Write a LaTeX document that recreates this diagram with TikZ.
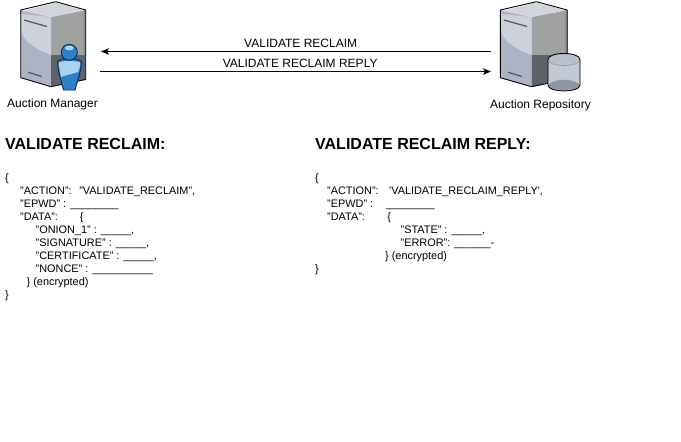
\documentclass[tikz,border=0pt]{standalone}
\usepackage{fontspec}
\setmainfont{Liberation Sans}
\usetikzlibrary{arrows.meta}
\usetikzlibrary{positioning}
\definecolor{srvtop}{HTML}{D2D5DE}
\definecolor{srvleft}{HTML}{ABB3C5}
\definecolor{srvlight}{HTML}{CDD1DC}
\definecolor{srvright}{HTML}{A0A1A1}
\definecolor{srvedge}{HTML}{8C8D8E}
\definecolor{srvdark}{HTML}{5E6369}
\definecolor{srvline}{HTML}{50565F}
\definecolor{usrblue}{HTML}{2E80C8}
\definecolor{usrdark}{HTML}{0C2C4C}
\definecolor{usrlight}{HTML}{A9D3EF}
\definecolor{dbbody}{HTML}{C3C8D5}
\definecolor{dbtop}{HTML}{B9BFCE}
\definecolor{dbshade}{HTML}{8F95A3}
\tikzset{
  sendline/.style={-{Stealth[length=8pt, width=6.5pt, inset=2pt]}, line width=0.7pt},
  msglabel/.style={above, inner sep=3.5pt, font=\fontsize{12}{14}\selectfont},
  hostlabel/.style={inner sep=0pt, font=\fontsize{12}{14}\selectfont},
  msgtitle/.style={anchor=base west, inner sep=0pt, font=\fontsize{16}{18}\selectfont\bfseries},
  jsonline/.style={anchor=base west, inner sep=0pt, font=\fontsize{10.9}{13}\selectfont},
  server/.pic={
    \fill[srvleft] (20.7,10) -- (51,17) -- (51,86.7) -- (20.7,77.7) -- cycle;
    \fill[srvright] (51,17) -- (85.7,10) -- (85.7,55) -- (51,55) -- cycle;
    \fill[srvdark] (51,55) -- (85.7,55) -- (85.7,79.5) -- (51,86.7) -- cycle;
    \fill[srvedge] (83.5,11) -- (85.7,10) -- (85.7,55) -- (83.5,55) -- cycle;
    \fill[srvlight] (21.5,14) -- (51,17) -- (51,55) .. controls (38,50) and (26,44) .. (21.5,32) -- cycle;
    \fill[srvtop] (23,11) -- (55.7,2.5) -- (84,10.5) -- (51,17) -- cycle;
    \draw[srvline, line width=1.2pt] (24,20) -- (46.7,26.5);
    \draw[srvline, line width=1.2pt] (28.3,72.3) -- (41.7,76.5);
    \draw[black, line width=0.9pt, line join=round] (20.7,10) -- (55.7,1.7) -- (85.7,10) -- (85.7,79.5) -- (51,86.7) -- (20.7,77.7) -- cycle;
  },
  person/.pic={
    \draw[usrdark, fill=usrblue, line width=0.9pt] (57.5,62) .. controls (60,59) and (64,58.5) .. (69,59.5) .. controls (75,58.5) and (79,59) .. (81.5,62) .. controls (81,72) and (77,82) .. (75,90) -- (63.5,90) .. controls (61,80) and (58,72) .. (57.5,62) -- cycle;
    \fill[usrlight] (58.7,62.5) .. controls (63,60.5) and (75,60.5) .. (80.3,62.5) .. controls (80,67) and (79,70) .. (78,72) .. controls (72,74) and (66,75) .. (61,77) .. controls (60,72) and (59,67) .. (58.7,62.5) -- cycle;
    \draw[usrdark, fill=usrblue, line width=0.9pt] (69.3,52.3) circle (8);
    \fill[usrlight] (69.3,48) ellipse (4.5 and 2.3);
  },
  database/.pic={
    \fill[dbbody] (548,59.5) -- (548,85) .. controls (548,92.8) and (580,92.8) .. (580,85) -- (580,59.5) -- cycle;
    \fill[dbshade] (548.5,85) .. controls (553,78) and (575,78) .. (579.5,85) .. controls (579.5,91.5) and (548.5,91.5) .. (548.5,85) -- cycle;
    \fill[dbtop] (564,59.5) ellipse (16 and 6);
    \draw[dbshade, line width=0.6pt] (548,59.5) .. controls (548,67.5) and (580,67.5) .. (580,59.5);
    \draw[black, line width=0.9pt] (548,85) .. controls (548,92.8) and (580,92.8) .. (580,85) -- (580,59.5) .. controls (580,51.5) and (548,51.5) .. (548,59.5) -- cycle;
  },
}
\begin{document}
\begin{tikzpicture}[x=1pt, y=-1pt]
  \useasboundingbox[fill=white] (0,0) rectangle (681,442);

  \pic at (0,0) {server};
  \pic at (0,0) {person};
  \pic[xscale=1.03] at (479,0) {server};
  \pic at (0,0) {database};

  \node[hostlabel] (manager) at (52.5,104) {Auction Manager};
  \node[hostlabel] (repository) at (540.5,105) {Auction Repository};

  \coordinate (mgrtop) at (101,51.5);
  \coordinate (mgrbot) at (100,71.5);
  \coordinate (repotop) at (491,51.5);
  \coordinate (repobot) at (491,71.5);
  \draw[sendline] (repotop) -- node[msglabel, pos=0.488] (reclaim) {VALIDATE RECLAIM} (mgrtop);
  \draw[sendline] (mgrbot) -- node[msglabel, pos=0.512] (reply) {VALIDATE RECLAIM REPLY} (repobot);

  \node[msgtitle] (titleleft) at (5,149) {VALIDATE RECLAIM:};
  \node[msgtitle] (titleright) at (315,149) {VALIDATE RECLAIM REPLY:};

  \node[jsonline] (l1) at (5,181) {\{};
  \node[jsonline] (l2) at (20,194) {"ACTION":\hspace{3.6pt} "VALIDATE\_RECLAIM",};
  \node[jsonline] (l3) at (20,207) {"EPWD" : \_\_\_\_\_\_\_\_};
  \node[jsonline] (l4) at (20,220) {"DATA":\hspace{18pt} \{};
  \node[jsonline] (l5) at (35.5,233) {"ONION\_1" : \_\_\_\_\_,};
  \node[jsonline] (l6) at (35.5,246) {"SIGNATURE" : \_\_\_\_\_,};
  \node[jsonline] (l7) at (35.5,259) {"CERTIFICATE" : \_\_\_\_\_,};
  \node[jsonline] (l8) at (35.5,272) {"NONCE" : \_\_\_\_\_\_\_\_\_\_};
  \node[jsonline] (l9) at (26.5,285) {\} (encrypted)};
  \node[jsonline] (l10) at (5,298) {\}};

  \node[jsonline] (r1) at (315,181) {\{};
  \node[jsonline] (r2) at (327,194) {"ACTION":\hspace{6.5pt} \textquotesingle VALIDATE\_RECLAIM\_REPLY\textquotesingle,};
  \node[jsonline] (r3) at (327,207) {"EPWD" :\hspace{9pt} \_\_\_\_\_\_\_\_};
  \node[jsonline] (r4) at (327,220) {"DATA":\hspace{18.5pt} \{};
  \node[jsonline] (r5) at (400.5,233) {"STATE" : \_\_\_\_\_,};
  \node[jsonline] (r6) at (400.5,246) {"ERROR": \_\_\_\_\_\_-};
  \node[jsonline] (r7) at (385,259) {\} (encrypted)};
  \node[jsonline] (r8) at (315,272) {\}};
\end{tikzpicture}
\end{document}
